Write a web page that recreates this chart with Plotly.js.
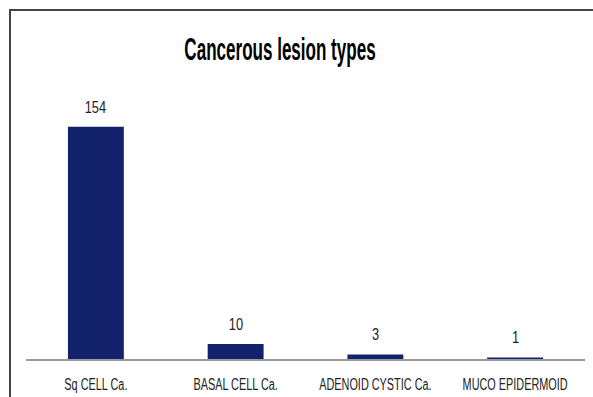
<!DOCTYPE html>
<html>
<head>
<meta charset="utf-8">
<script src="https://cdn.plot.ly/plotly-3.0.1.min.js"></script>
<style>
  html, body { margin: 0; padding: 0; background: #fff; overflow: hidden; }
  #chart { width: 593px; height: 397px; position: absolute; left: 0; top: 0; }
  #frame { position: absolute; left: 9px; top: 9px; width: 640px; height: 440px;
           border: 2px solid #444; pointer-events: none; }
</style>
</head>
<body>
<div id="chart"></div>
<div id="frame"></div>
<script>
// Lesion categories and case counts
const categories = ['Sq CELL Ca.', 'BASAL CELL Ca.', 'ADENOID CYSTIC Ca.', 'MUCO EPIDERMOID'];
const counts = [154, 10, 3, 1];

const FONT = '"Liberation Sans", Arial, sans-serif';

// value labels above each bar
const valueLabels = categories.map((c, i) => ({
  x: c, y: counts[i], xref: 'x', yref: 'y',
  text: String(counts[i]), showarrow: false,
  yanchor: 'bottom', yshift: 9,
  font: { family: FONT, size: 16, color: '#222' }
}));

const layout = {
  width: 593,
  height: 397,
  margin: { l: 26, r: 8, t: 80, b: 38 },
  paper_bgcolor: 'rgba(0,0,0,0)',
  plot_bgcolor: 'rgba(0,0,0,0)',
  bargap: 0.6,
  showlegend: false,
  title: {
    text: '<b>Cancerous lesion types</b>',
    font: { family: FONT, size: 31, color: '#000' },
    x: 280 / 593, xanchor: 'center', y: 0.875, yanchor: 'middle'
  },
  annotations: valueLabels,
  xaxis: {
    showline: true, linecolor: '#999', linewidth: 1.5,
    ticks: '', tickangle: 0, ticklabelstandoff: 10,
    tickfont: { family: FONT, size: 16, color: '#222' },
    showgrid: false, zeroline: false, fixedrange: true
  },
  yaxis: {
    range: [0, 185], visible: false, showgrid: false, zeroline: false, fixedrange: true
  }
};

// Horizontally condense a text element around its own centre
function condense(el, s) {
  const bb = el.getBBox();
  const cx = bb.x + bb.width / 2;
  const t = el.getAttribute('transform') || '';
  el.setAttribute('transform', t + ' translate(' + cx + ' 0) scale(' + s + ' 1) translate(' + (-cx) + ' 0)');
}

Plotly.newPlot('chart', [{
  type: 'bar',
  x: categories,
  y: counts,
  marker: { color: '#13226c' },
  hoverinfo: 'none'
}], layout, { staticPlot: true, displayModeBar: false }).then(gd => {
  gd.querySelectorAll('.gtitle').forEach(el => condense(el, 0.55));
  gd.querySelectorAll('.xtick text').forEach(el => condense(el, 0.68));
  gd.querySelectorAll('.annotation-text').forEach(el => condense(el, 0.8));
});
</script>
</body>
</html>
